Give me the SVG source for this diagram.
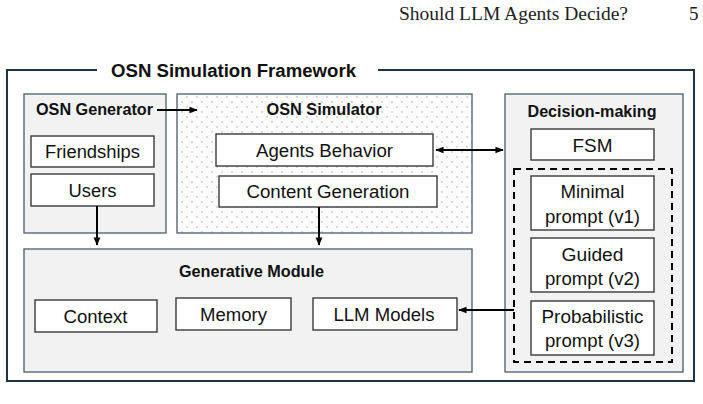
<svg xmlns="http://www.w3.org/2000/svg" width="703" height="404" viewBox="0 0 703 404">
<style>
.hdr{font-family:"Liberation Serif","DejaVu Serif",serif;font-size:19px;fill:#222}
.ttl{font-family:"Liberation Sans",Arial,sans-serif;font-weight:bold;font-size:18px;fill:#111}
.sub{font-family:"Liberation Sans",Arial,sans-serif;font-weight:bold;font-size:16px;fill:#111}
.lbl{font-family:"Liberation Sans",Arial,sans-serif;font-size:17.5px;fill:#111}
.cont{fill:#f2f2f2;stroke:#56697a;stroke-width:1.4}
.box{fill:#fff;stroke:#3a3a3a;stroke-width:1.4}
.conn{stroke:#000;stroke-width:2;fill:none}
</style>
<defs>
<pattern id="dots" width="10" height="10" patternUnits="userSpaceOnUse">
<rect width="10" height="10" fill="#fcfcfc"/>
<circle cx="2" cy="2" r="0.65" fill="#9a9a9a"/>
<circle cx="7" cy="7" r="0.65" fill="#9a9a9a"/>
</pattern>
<marker id="ah" viewBox="0 0 10 10" refX="9" refY="5" markerWidth="4.2" markerHeight="4.2" orient="auto-start-reverse" markerUnits="strokeWidth">
<path d="M0,1 L10,5 L0,9 z" fill="#000"/>
</marker>
</defs>
<rect width="703" height="404" fill="#fff"/>
<g id="header">
<text class="hdr" x="399" y="20" textLength="229" lengthAdjust="spacingAndGlyphs">Should LLM Agents Decide?</text>
<text class="hdr" x="689" y="20">5</text>
</g>
<g id="framework">
<path d="M97,70 H7 V381 H694 V70 H378" fill="none" stroke="#1f3344" stroke-width="2"/>
<text class="ttl" x="111" y="76.7" textLength="245" lengthAdjust="spacingAndGlyphs">OSN Simulation Framework</text>
</g>
<g id="osn-generator">
<rect class="cont" x="24" y="94" width="142" height="139"/>
<text class="sub" x="36" y="115" textLength="117" lengthAdjust="spacingAndGlyphs">OSN Generator</text>
</g>
<g id="friendships">
<rect class="box" x="31" y="136" width="123" height="31"/>
<text class="lbl" x="92.5" y="158.3" text-anchor="middle" textLength="95" lengthAdjust="spacingAndGlyphs">Friendships</text>
</g>
<g id="users">
<rect class="box" x="31" y="174" width="123" height="32"/>
<text class="lbl" x="92.5" y="196.7" text-anchor="middle" textLength="48" lengthAdjust="spacingAndGlyphs">Users</text>
</g>
<g id="osn-simulator">
<rect x="177" y="94" width="295" height="139" fill="url(#dots)" stroke="#56697a" stroke-width="1.4"/>
<text class="sub" x="324" y="115" text-anchor="middle" textLength="115" lengthAdjust="spacingAndGlyphs">OSN Simulator</text>
</g>
<g id="agents-behavior">
<rect class="box" x="216" y="134" width="217" height="32"/>
<text class="lbl" x="324.5" y="156.7" text-anchor="middle" textLength="137" lengthAdjust="spacingAndGlyphs">Agents Behavior</text>
</g>
<g id="content-generation">
<rect class="box" x="219" y="176" width="218" height="31"/>
<text class="lbl" x="328" y="198.3" text-anchor="middle" textLength="163" lengthAdjust="spacingAndGlyphs">Content Generation</text>
</g>
<g id="decision-making">
<rect class="cont" x="505" y="94" width="178" height="278"/>
<text class="sub" x="592" y="116.7" text-anchor="middle" textLength="129" lengthAdjust="spacingAndGlyphs">Decision-making</text>
</g>
<g id="fsm">
<rect class="box" x="531" y="129" width="123" height="31"/>
<text class="lbl" x="592.5" y="151.7" text-anchor="middle" textLength="40" lengthAdjust="spacingAndGlyphs">FSM</text>
</g>
<g id="llm-prompts">
<rect x="514" y="169" width="158" height="193" fill="none" stroke="#000" stroke-width="2" stroke-dasharray="7,5"/>
</g>
<g id="minimal-prompt">
<rect class="box" x="531" y="176" width="123" height="54"/>
<text class="lbl" x="592.5" y="198.3" text-anchor="middle" textLength="64" lengthAdjust="spacingAndGlyphs">Minimal</text>
<text class="lbl" x="592.5" y="222.5" text-anchor="middle" textLength="95" lengthAdjust="spacingAndGlyphs">prompt (v1)</text>
</g>
<g id="guided-prompt">
<rect class="box" x="531" y="238" width="123" height="54"/>
<text class="lbl" x="592.5" y="260.7" text-anchor="middle" textLength="62" lengthAdjust="spacingAndGlyphs">Guided</text>
<text class="lbl" x="592.5" y="285" text-anchor="middle" textLength="95" lengthAdjust="spacingAndGlyphs">prompt (v2)</text>
</g>
<g id="probabilistic-prompt">
<rect class="box" x="531" y="301" width="123" height="54"/>
<text class="lbl" x="592.5" y="323.3" text-anchor="middle" textLength="102" lengthAdjust="spacingAndGlyphs">Probabilistic</text>
<text class="lbl" x="592.5" y="347" text-anchor="middle" textLength="95" lengthAdjust="spacingAndGlyphs">prompt (v3)</text>
</g>
<g id="generative-module">
<rect class="cont" x="24" y="249" width="448" height="123"/>
<text class="sub" x="251.5" y="276.7" text-anchor="middle" textLength="145" lengthAdjust="spacingAndGlyphs">Generative Module</text>
</g>
<g id="context">
<rect class="box" x="35" y="300" width="122" height="32"/>
<text class="lbl" x="95.5" y="322.7" text-anchor="middle" textLength="64" lengthAdjust="spacingAndGlyphs">Context</text>
</g>
<g id="memory">
<rect class="box" x="176" y="298" width="115" height="32"/>
<text class="lbl" x="233.5" y="321" text-anchor="middle" textLength="67" lengthAdjust="spacingAndGlyphs">Memory</text>
</g>
<g id="llm-models">
<rect class="box" x="313" y="298" width="144" height="32"/>
<text class="lbl" x="384" y="321" text-anchor="middle" textLength="101" lengthAdjust="spacingAndGlyphs">LLM Models</text>
</g>
<g id="connectors">
<line class="conn" x1="157" y1="110" x2="197" y2="110" marker-end="url(#ah)"/>
<line class="conn" x1="97" y1="206" x2="97" y2="245" marker-end="url(#ah)"/>
<line class="conn" x1="319" y1="207" x2="319" y2="245" marker-end="url(#ah)"/>
<line class="conn" x1="436" y1="150" x2="503" y2="150" marker-start="url(#ah)" marker-end="url(#ah)"/>
<line class="conn" x1="514" y1="310" x2="459" y2="310" marker-end="url(#ah)"/>
</g>
</svg>
